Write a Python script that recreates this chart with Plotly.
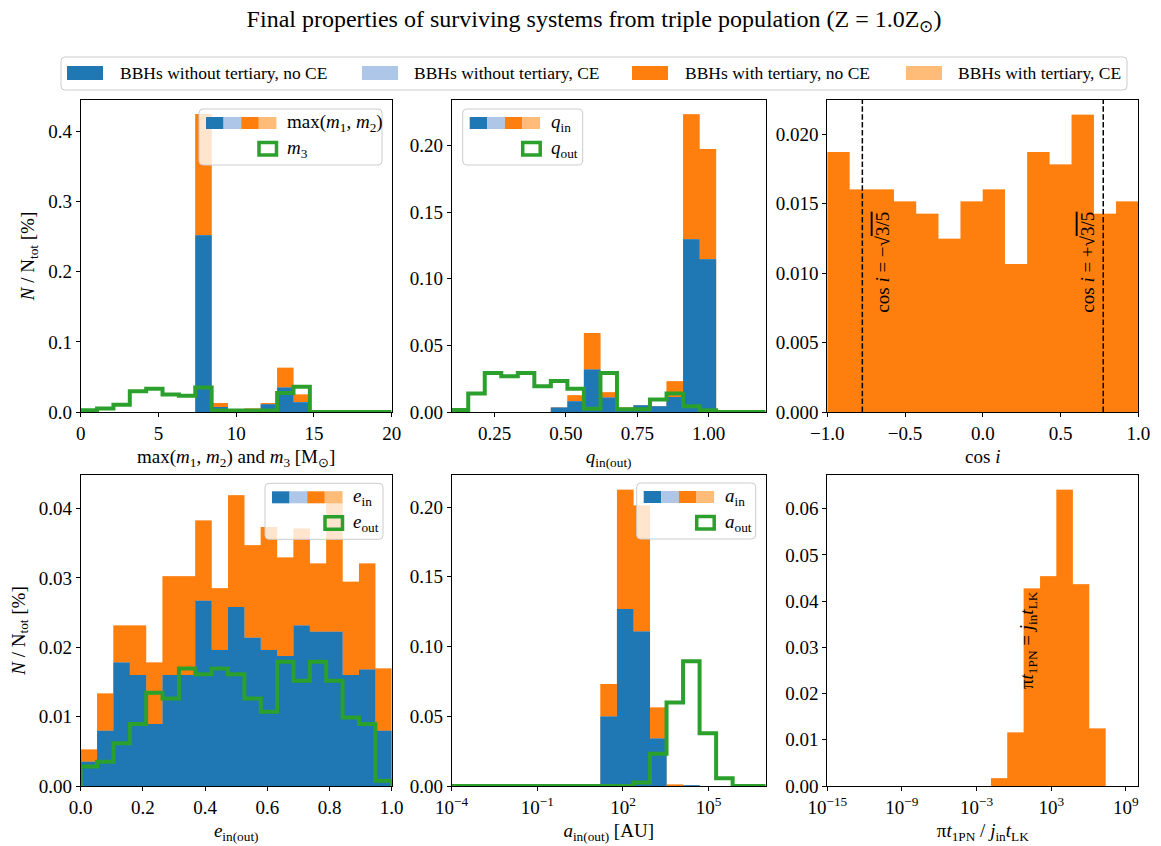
import numpy as np
import plotly.graph_objects as go

W, H = 1161, 846
FONT = "Liberation Serif, Times New Roman, serif"

# ---------------- colours ----------------
C_BLUE, C_LBLUE = "#1f77b4", "#aec7e8"
C_ORANGE, C_LORANGE = "#ff7f0e", "#ffbb78"
C_GREEN = "#2ca02c"

# ---------------- bins ----------------
mass_range = (0.0, 20.0)      # 19 equal bins
q_range = (0.1, 1.2)          # 19 equal bins
cosi_range = (-1.0, 1.0)      # 14 equal bins
e_range = (0.0, 1.0)          # 19 equal bins
a_log_range = (-4, 7)         # 19 log bins (decades)
t_log_range = (-15, 10)       # 19 log bins (decades)

# ---------------- data: N/N_tot [%] per bin ----------------
# max(m1, m2)
mass_noT_noCE = [0, 0, 0, 0, 0, 0, 0, 0.252, 0.007, 0, 0.003, 0.011, 0.035, 0.014, 0, 0, 0, 0, 0]
mass_noT_CE = [0] * 19
mass_T_noCE = [0, 0, 0, 0, 0, 0, 0, 0.173, 0.006, 0, 0.002, 0.002, 0.028, 0.011, 0, 0, 0, 0, 0]
mass_T_CE = [0] * 19
m3_vals = [0.0024, 0.005, 0.0105, 0.0295, 0.033, 0.025, 0.023, 0.035, 0.002, 0.002,
           0.002, 0.002, 0.027, 0.036, 0, 0, 0, 0, 0]

# q_in / q_out
q_noT_noCE = [0, 0, 0, 0, 0, 0, 0.0033, 0.008, 0.032, 0.0108, 0.002, 0.005, 0.0043, 0.0113,
              0.1298, 0.1148, 0, 0, 0]
q_noT_CE = [0] * 19
q_T_noCE = [0, 0, 0, 0, 0, 0, 0, 0.0045, 0.0274, 0.004, 0.0013, 0, 0.0002, 0.0117,
            0.0938, 0.0827, 0, 0, 0]
q_T_CE = [0] * 19
qout_vals = [0.0015, 0.0138, 0.0293, 0.0268, 0.0293, 0.0193, 0.0233, 0.0175, 0.0025, 0.0293,
             0.002, 0.002, 0.0093, 0.0138, 0.0043, 0.0013, 0, 0, 0]

# cos i (only systems with tertiary)
cosi_T_noCE = [0.01873, 0.01603, 0.01603, 0.01517, 0.01428, 0.01248, 0.01517, 0.01603,
               0.01067, 0.01873, 0.01784, 0.02142, 0.01428, 0.01517]
cosi_T_CE = [0] * 14

# e_in / e_out
e_noT_noCE = [0.0035, 0.00797, 0.01782, 0.0160, 0.00893, 0.0160, 0.0160, 0.0267, 0.0196,
              0.02583, 0.02137, 0.0196, 0.01873, 0.02315, 0.02223, 0.02223, 0.016, 0.0168, 0.00797]
e_noT_CE = [0] * 19
e_T_noCE = [0.00178, 0.00538, 0.00533, 0.00715, 0.00889, 0.01425, 0.01425, 0.0116, 0.00892,
            0.01609, 0.01335, 0.01776, 0.01421, 0.01397, 0.00985, 0.02027, 0.01344, 0.01528, 0.00898]
e_T_CE = [0] * 19
eout_vals = [0.0028, 0.0035, 0.00615, 0.00893, 0.01345, 0.01263, 0.01695, 0.01613, 0.01695,
             0.01613, 0.01263, 0.01071, 0.01791, 0.01517, 0.01791, 0.01517, 0.00989, 0.00893, 0.00077]

# a_in / a_out
a_noT_noCE = [0, 0, 0, 0, 0, 0, 0, 0, 0, 0.0498, 0.127, 0.1107, 0.034, 0, 0.0005, 0, 0, 0, 0]
a_noT_CE = [0] * 19
a_T_noCE = [0, 0, 0, 0, 0, 0, 0, 0, 0, 0.0233, 0.0855, 0.0905, 0.0223, 0.001, 0, 0, 0, 0, 0]
a_T_CE = [0] * 19
aout_vals = [0, 0, 0, 0, 0, 0, 0, 0, 0, 0, 0, 0.0025, 0.0232, 0.0599, 0.0894, 0.0378, 0.0055, 0, 0]

# pi t_1PN / (j_in t_LK)
t_T_noCE = [0, 0, 0, 0, 0, 0, 0, 0, 0, 0, 0.00166, 0.0116, 0.0427, 0.0454, 0.0641, 0.04365,
            0.01246, 0, 0]
t_T_CE = [0] * 19

legend_labels = ["BBHs without tertiary, no CE", "BBHs without tertiary, CE",
                 "BBHs with tertiary, no CE", "BBHs with tertiary, CE"]
legend_colors = [C_BLUE, C_LBLUE, C_ORANGE, C_LORANGE]

# ---------------- layout geometry (pixels) ----------------
COLS = [(80.7, 391.7), (451.7, 765.7), (827.3, 1138.3)]
ROWS = [(100.0, 412.0), (475.0, 786.0)]


def px(x):
    return x / W


def py(y):
    return 1 - y / H


fig = go.Figure()


def add_stacked(edges, layers, colors, k):
    """Stacked histogram drawn as filled step areas (top layer first)."""
    cum = np.cumsum(np.array(layers, dtype=float), axis=0)
    for i in range(len(layers) - 1, -1, -1):
        vals = list(cum[i]) + [cum[i][-1]]
        fig.add_trace(go.Scatter(
            x=list(edges), y=vals, mode="lines", line=dict(shape="hv", width=0, color=colors[i]),
            fill="tozeroy", fillcolor=colors[i], showlegend=False, hoverinfo="skip",
            xaxis=f"x{k}", yaxis=f"y{k}"))


def add_step(edges, vals, k):
    xs = [edges[0]] + list(edges) + [edges[-1]]
    ys = [0] + list(vals) + [vals[-1], 0]
    fig.add_trace(go.Scatter(
        x=xs, y=ys, mode="lines", line=dict(shape="hv", width=4, color=C_GREEN),
        showlegend=False, hoverinfo="skip", xaxis=f"x{k}", yaxis=f"y{k}"))


mass_edges = np.linspace(*mass_range, 20)
q_edges = np.linspace(*q_range, 20)
cosi_edges = np.linspace(*cosi_range, 15)
e_edges = np.linspace(*e_range, 20)
a_edges = np.logspace(*a_log_range, 20)
t_edges = np.logspace(*t_log_range, 20)

four = legend_colors
add_stacked(mass_edges, [mass_noT_noCE, mass_noT_CE, mass_T_noCE, mass_T_CE], four, 1)
add_step(mass_edges, m3_vals, 1)
add_stacked(q_edges, [q_noT_noCE, q_noT_CE, q_T_noCE, q_T_CE], four, 2)
add_step(q_edges, qout_vals, 2)
add_stacked(cosi_edges, [cosi_T_noCE, cosi_T_CE], [C_ORANGE, C_LORANGE], 3)
add_stacked(e_edges, [e_noT_noCE, e_noT_CE, e_T_noCE, e_T_CE], four, 4)
add_step(e_edges, eout_vals, 4)
add_stacked(a_edges, [a_noT_noCE, a_noT_CE, a_T_noCE, a_T_CE], four, 5)
add_step(a_edges, aout_vals, 5)
add_stacked(t_edges, [t_T_noCE, t_T_CE], [C_ORANGE, C_LORANGE], 6)

tickfont = dict(family=FONT, size=19, color="black")
titlefont = dict(family=FONT, size=19, color="black")


def sup(e):
    s = str(e).replace("-", "\u2212")
    return f"10<sup>{s}</sup>"


axes_cfg = {
    1: dict(x=dict(range=list(mass_range), tickvals=[0, 5, 10, 15, 20], tickformat="d",
                   title="max(<i>m</i><sub>1</sub>, <i>m</i><sub>2</sub>) and <i>m</i><sub>3</sub> [M<sub>⊙</sub>]"),
            y=dict(range=[0, 0.445], tickvals=[0, 0.1, 0.2, 0.3, 0.4], tickformat=".1f",
                   title="<i>N</i> / N<sub>tot</sub> [%]")),
    2: dict(x=dict(range=list(q_range), tickvals=[0.25, 0.5, 0.75, 1.0], tickformat=".2f",
                   title="<i>q</i><sub>in(out)</sub>"),
            y=dict(range=[0, 0.2343], tickvals=[0, 0.05, 0.1, 0.15, 0.2], tickformat=".2f")),
    3: dict(x=dict(range=list(cosi_range), tickvals=[-1, -0.5, 0, 0.5, 1], tickformat=".1f",
                   title="cos <i>i</i>"),
            y=dict(range=[0, 0.02248], tickvals=[0, 0.005, 0.01, 0.015, 0.02], tickformat=".3f")),
    4: dict(x=dict(range=list(e_range), tickvals=[0, 0.2, 0.4, 0.6, 0.8, 1.0], tickformat=".1f",
                   title="<i>e</i><sub>in(out)</sub>"),
            y=dict(range=[0, 0.04485], tickvals=[0, 0.01, 0.02, 0.03, 0.04], tickformat=".2f",
                   title="<i>N</i> / N<sub>tot</sub> [%]")),
    5: dict(x=dict(type="log", range=list(a_log_range), tickvals=[1e-4, 1e-1, 1e2, 1e5],
                   ticktext=[sup(-4), sup(-1), sup(2), sup(5)],
                   title="<i>a</i><sub>in(out)</sub> [AU]"),
            y=dict(range=[0, 0.223], tickvals=[0, 0.05, 0.1, 0.15, 0.2], tickformat=".2f")),
    6: dict(x=dict(type="log", range=list(t_log_range), tickvals=[1e-15, 1e-9, 1e-3, 1e3, 1e9],
                   ticktext=[sup(-15), sup(-9), sup(-3), sup(3), sup(9)],
                   title="π<i>t</i><sub>1PN</sub> / <i>j</i><sub>in</sub><i>t</i><sub>LK</sub>"),
            y=dict(range=[0, 0.06728], tickvals=[0, 0.01, 0.02, 0.03, 0.04, 0.05, 0.06], tickformat=".2f")),
}

layout = {}
for k in range(1, 7):
    r, c = divmod(k - 1, 3)
    x0, x1 = COLS[c]
    y0, y1 = ROWS[r]
    common = dict(showline=True, mirror=True, linecolor="black", linewidth=1,
                  ticks="outside", ticklen=4, tickwidth=0.8, tickcolor="black",
                  showgrid=False, zeroline=False, tickfont=tickfont, fixedrange=True,
                  automargin=False)
    xc = dict(axes_cfg[k]["x"])
    yc = dict(axes_cfg[k]["y"])
    xt = xc.pop("title")
    yt = yc.pop("title", None)
    xa = dict(common, **xc, domain=[px(x0), px(x1)], anchor=f"y{k}",
              title=dict(text=xt, font=titlefont, standoff=6))
    ya = dict(common, **yc, domain=[py(y1), py(y0)], anchor=f"x{k}")
    if yt:
        ya["title"] = dict(text=yt, font=titlefont, standoff=8)
    sfx = "" if k == 1 else str(k)
    layout[f"xaxis{sfx}"] = xa
    layout[f"yaxis{sfx}"] = ya

shapes = []
annotations = []


def rounded_box(L, T, R, B, r=4):
    xl, xr = px(L), px(R)
    yt, yb = py(T), py(B)
    rx, ry = r / W, r / H
    path = (f"M{xl + rx},{yt} L{xr - rx},{yt} Q{xr},{yt} {xr},{yt - ry} "
            f"L{xr},{yb + ry} Q{xr},{yb} {xr - rx},{yb} L{xl + rx},{yb} "
            f"Q{xl},{yb} {xl},{yb + ry} L{xl},{yt - ry} Q{xl},{yt} {xl + rx},{yt} Z")
    shapes.append(dict(type="path", path=path, xref="paper", yref="paper",
                       fillcolor="rgba(255,255,255,0.8)", line=dict(color="#cccccc", width=1)))


def inner_legend(L, T, w, lab1, lab2):
    rounded_box(L, T, L + w, T + 56)
    for i, col in enumerate(four):
        shapes.append(dict(type="rect", xref="paper", yref="paper",
                           x0=px(L + 7 + 17.6 * i), x1=px(L + 7 + 17.6 * (i + 1)),
                           y0=py(T + 20), y1=py(T + 8), fillcolor=col, line=dict(width=0)))
    shapes.append(dict(type="rect", xref="paper", yref="paper",
                       x0=px(L + 60), x1=px(L + 77.5), y0=py(T + 46), y1=py(T + 33.5),
                       fillcolor="rgba(255,255,255,0)", line=dict(color=C_GREEN, width=3.5)))
    for lab, yy in ((lab1, T + 14), (lab2, T + 40)):
        annotations.append(dict(text=lab, x=px(L + 86), y=py(yy), xref="paper", yref="paper",
                                xanchor="left", yanchor="middle", showarrow=False,
                                font=dict(family=FONT, size=19, color="black")))


inner_legend(199.0, 109.0, 183, "max(<i>m</i><sub>1</sub>, <i>m</i><sub>2</sub>)", "<i>m</i><sub>3</sub>")
inner_legend(462.7, 109.0, 120, "<i>q</i><sub>in</sub>", "<i>q</i><sub>out</sub>")
inner_legend(265.0, 483.3, 118, "<i>e</i><sub>in</sub>", "<i>e</i><sub>out</sub>")
inner_legend(636.7, 483.0, 119, "<i>a</i><sub>in</sub>", "<i>a</i><sub>out</sub>")

# top legend
rounded_box(61, 57, 1127, 90)
patch_x = [67, 362, 632, 906]
text_x = [118, 412, 683, 956]
for lab, col, p0, t0 in zip(legend_labels, legend_colors, patch_x, text_x):
    shapes.append(dict(type="rect", xref="paper", yref="paper", x0=px(p0), x1=px(p0 + 36),
                       y0=py(80), y1=py(66), fillcolor=col, line=dict(width=0)))
    annotations.append(dict(text=lab, x=px(t0), y=py(73.5), xref="paper", yref="paper",
                            xanchor="left", yanchor="middle", showarrow=False,
                            font=dict(family=FONT, size=17.5, color="black")))

# dashed reference lines
crit = np.sqrt(3 / 5)
for xv in (-crit, crit):
    shapes.append(dict(type="line", xref="x3", yref="y3 domain", x0=xv, x1=xv, y0=0, y1=1,
                       line=dict(color="black", width=1.5, dash="5.5px,2.4px")))
shapes.append(dict(type="line", xref="x6", yref="y6 domain", x0=np.log10(1.0), x1=np.log10(1.0),
                   y0=0, y1=1, line=dict(color="black", width=1.5, dash="5.5px,2.4px")))

rot_font = dict(family=FONT, size=19, color="black")
for txt, cx, cy in (
        ("cos <i>i</i> = −√<span style='text-decoration:overline'>3/5</span>", 881.7, 262),
        ("cos <i>i</i> = +√<span style='text-decoration:overline'>3/5</span>", 1086.7, 262),
        ("π<i>t</i><sub>1PN</sub> = <i>j</i><sub>in</sub><i>t</i><sub>LK</sub>", 1028, 640)):
    annotations.append(dict(text=txt, x=px(cx), y=py(cy), xref="paper", yref="paper",
                            xanchor="center", yanchor="middle", textangle=-90,
                            showarrow=False, font=rot_font))

fig.update_layout(
    width=W, height=H, margin=dict(l=0, r=0, t=0, b=0, autoexpand=False),
    paper_bgcolor="white", plot_bgcolor="white", showlegend=False,
    font=dict(family=FONT, color="black", size=19),
    title=dict(text="Final properties of surviving systems from triple population (Z = 1.0Z<sub>⊙</sub>)",
               x=px(594), xanchor="center", y=py(19), yanchor="middle",
               font=dict(family=FONT, size=24, color="black")),
    shapes=shapes, annotations=annotations, **layout)

fig.write_html("out.html")
